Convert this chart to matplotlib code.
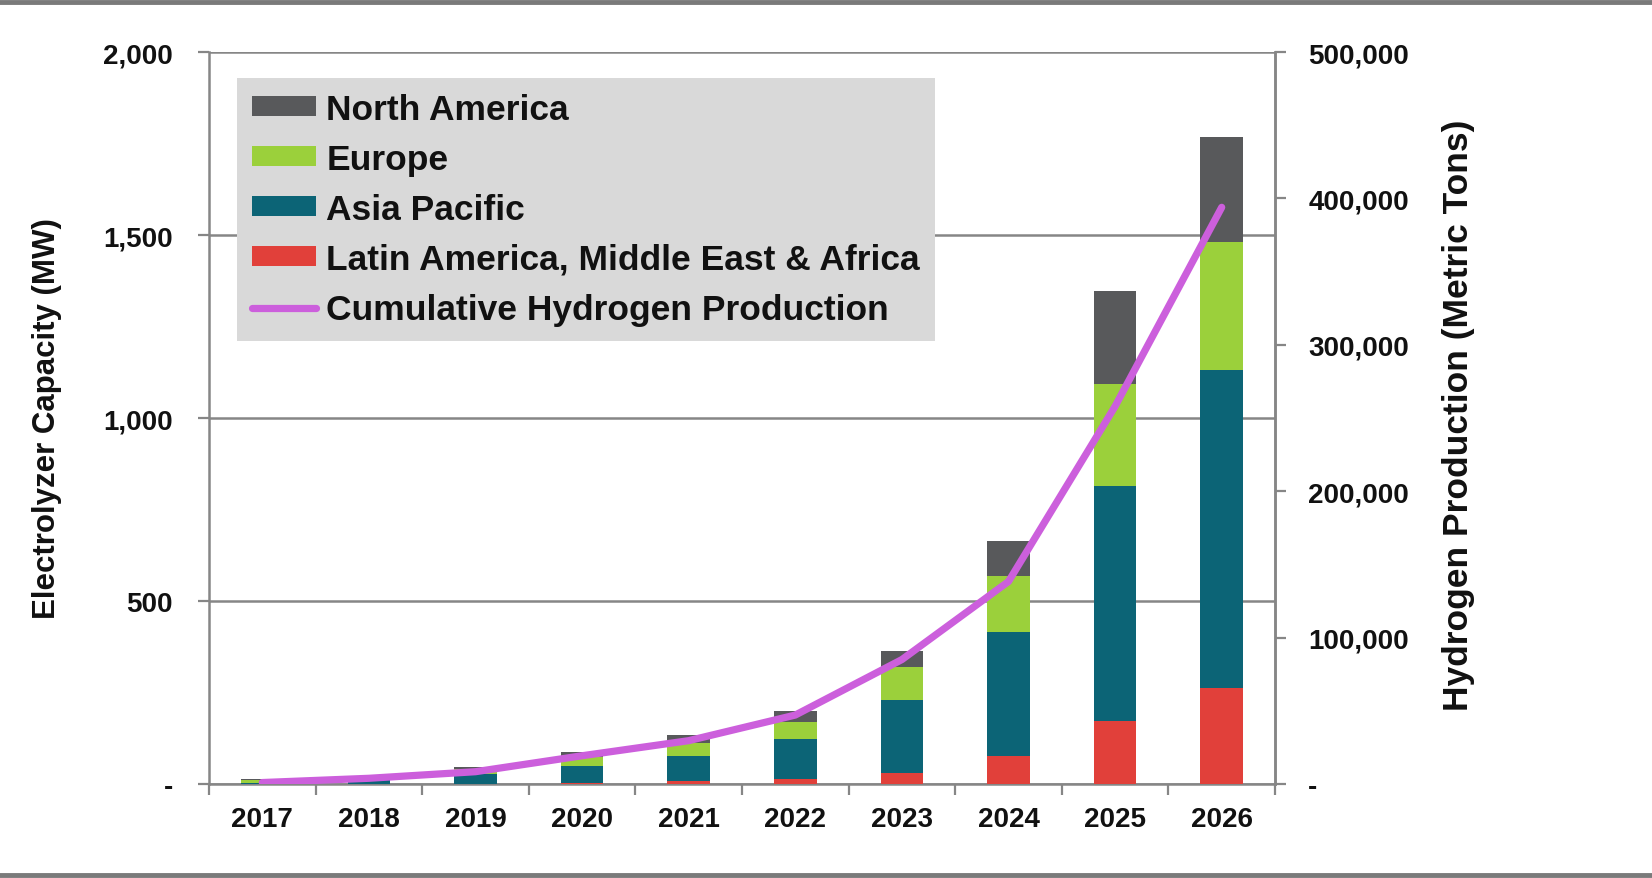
import matplotlib
matplotlib.use("Agg")
import matplotlib.pyplot as plt
from matplotlib.ticker import FuncFormatter, MultipleLocator
from matplotlib.lines import Line2D
from matplotlib.patches import Patch

plt.rcParams['font.family'] = ['Liberation Sans', 'DejaVu Sans']
plt.rcParams['font.weight'] = 'bold'

years = ["2017", "2018", "2019", "2020", "2021", "2022", "2023", "2024", "2025", "2026"]
latam_mea = [0, 0, 1, 2, 8, 14, 30, 76, 173, 261]
asia_pacific = [2, 10, 26, 46, 68, 108, 200, 340, 642, 871]
europe = [8, 7, 13, 27, 35, 48, 89, 151, 278, 348]
north_america = [3, 5, 7, 12, 23, 29, 45, 98, 253, 287]
hydrogen = [1000, 3900, 8400, 19300, 29600, 47100, 85000, 138300, 258000, 393900]

series_labels = ["North America", "Europe", "Asia Pacific",
                 "Latin America, Middle East & Africa", "Cumulative Hydrogen Production"]

C_NA = "#58595B"
C_EU = "#9BD03B"
C_AP = "#0C6476"
C_LA = "#E1403A"
C_LINE = "#CC5FDC"
GRID = "#868686"
TXT = "#111111"

W, H = 1652, 879
fig = plt.figure(figsize=(W / 100, H / 100), dpi=100)
ax = fig.add_axes([209 / W, 1 - 785 / H, (1275 - 209) / W, (785 - 53) / H])

x = list(range(len(years)))
bw = 0.40
b1 = latam_mea
b2 = [a + b for a, b in zip(b1, asia_pacific)]
b3 = [a + b for a, b in zip(b2, europe)]
ax.bar(x, latam_mea, bw, color=C_LA, zorder=3, linewidth=0)
ax.bar(x, asia_pacific, bw, bottom=b1, color=C_AP, zorder=3, linewidth=0)
ax.bar(x, europe, bw, bottom=b2, color=C_EU, zorder=3, linewidth=0)
ax.bar(x, north_america, bw, bottom=b3, color=C_NA, zorder=3, linewidth=0)

ax.set_xlim(-0.5, len(years) - 0.5)
ax.set_ylim(0, 2000)
ax.yaxis.set_major_locator(MultipleLocator(500))
ax.yaxis.set_major_formatter(FuncFormatter(lambda v, p: "-" if v == 0 else f"{int(v):,}"))
ax.set_xticks(x)
ax.set_xticklabels(years)
ax.set_xticks([i - 0.5 for i in range(len(years) + 1)], minor=True)
ax.tick_params(axis='x', which='major', length=0, pad=16, labelsize=20, labelcolor=TXT)
ax.tick_params(axis='x', which='minor', length=8, width=1.6, color=GRID, direction='out')
ax.tick_params(axis='y', length=8, width=1.6, color=GRID, direction='out', pad=18,
               labelsize=20, labelcolor=TXT)
ax.grid(axis='y', color=GRID, linewidth=1.8, zorder=1)
for s in ['left', 'bottom', 'right']:
    ax.spines[s].set_color(GRID)
    ax.spines[s].set_linewidth(1.8)
ax.spines['top'].set_visible(False)
ax.set_axisbelow(True)

ax2 = ax.twinx()
ax2.plot(x, hydrogen, color=C_LINE, linewidth=5.2, solid_capstyle='round',
         solid_joinstyle='round', zorder=5)
ax2.set_ylim(0, 500000)
ax2.yaxis.set_major_locator(MultipleLocator(100000))
ax2.yaxis.set_major_formatter(FuncFormatter(lambda v, p: "-" if v == 0 else f"{int(v):,}"))
ax2.tick_params(axis='y', length=8, width=1.6, color=GRID, direction='out', pad=16,
                labelsize=20, labelcolor=TXT)
for s in ['left', 'bottom', 'top']:
    ax2.spines[s].set_visible(False)
ax2.spines['right'].set_color(GRID)
ax2.spines['right'].set_linewidth(1.8)

ax.set_ylabel("Electrolyzer Capacity (MW)", fontsize=22.5, fontweight='bold', color=TXT)
ax.yaxis.set_label_coords((62 - 209) / (1275 - 209), 0.5)
ax2.set_ylabel("Hydrogen Production (Metric Tons)", fontsize=25.5, fontweight='bold',
               color=TXT, rotation=90)
ax2.yaxis.set_label_coords((1442 - 209) / (1275 - 209), 0.505)

handles = [Patch(facecolor=C_NA, edgecolor='none'),
           Patch(facecolor=C_EU, edgecolor='none'),
           Patch(facecolor=C_AP, edgecolor='none'),
           Patch(facecolor=C_LA, edgecolor='none'),
           Line2D([0], [0], color=C_LINE, linewidth=5.2, solid_capstyle='round')]
leg = fig.legend(handles, series_labels, loc='upper left',
                 bbox_to_anchor=(237 / W, 1 - 79 / H), fontsize=25.5,
                 frameon=True, fancybox=False, facecolor="#D9D9D9", edgecolor='none',
                 framealpha=1, handlelength=1.8, handleheight=0.5, handletextpad=0.3,
                 labelspacing=0.48, borderpad=0.42, borderaxespad=0)
for t in leg.get_texts():
    t.set_color(TXT)
    t.set_fontweight('bold')
leg.set_zorder(10)

# page rules
fig.add_artist(Line2D([0, 1], [1 - 2.5 / H, 1 - 2.5 / H], color="#7A7A7A", linewidth=3.5,
                      transform=fig.transFigure))
fig.add_artist(Line2D([0, 1], [3.5 / H, 3.5 / H], color="#7A7A7A", linewidth=3.5,
                      transform=fig.transFigure))

fig.savefig("out.png", dpi=100, facecolor='white')
